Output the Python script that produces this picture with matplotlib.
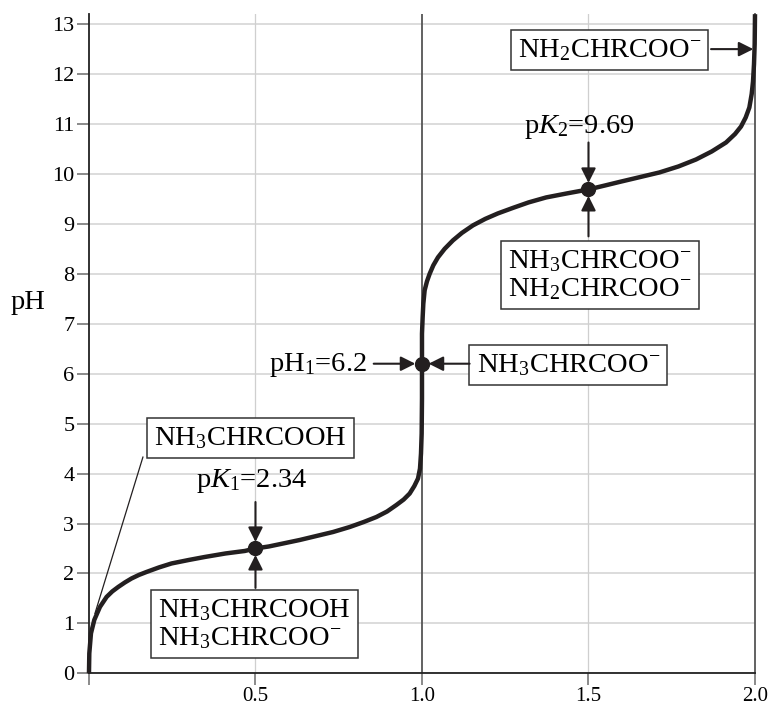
import matplotlib
matplotlib.use("Agg")
import matplotlib.pyplot as plt

plt.rcParams['font.family'] = ['Liberation Serif', 'DejaVu Serif']
plt.rcParams['mathtext.fontset'] = 'custom'
plt.rcParams['mathtext.rm'] = 'Liberation Serif'
plt.rcParams['mathtext.it'] = 'Liberation Serif:italic'

# titration curve (equivalents of base, pH)
eq = [0, 0.001, 0.006, 0.016, 0.033, 0.053, 0.07, 0.088, 0.108, 0.128,
      0.15, 0.173, 0.21, 0.248, 0.3, 0.348, 0.41, 0.468, 0.5, 0.54,
      0.583, 0.633, 0.683, 0.733, 0.783, 0.825, 0.863, 0.895, 0.923, 0.945,
      0.963, 0.977, 0.988, 0.994, 0.997, 0.999, 1.0, 1.0, 1.002, 1.004,
      1.008, 1.015, 1.023, 1.034, 1.048, 1.068, 1.093, 1.12, 1.153, 1.19,
      1.228, 1.273, 1.32, 1.373, 1.435, 1.5, 1.55, 1.593, 1.65, 1.713,
      1.77, 1.823, 1.87, 1.913, 1.94, 1.958, 1.972, 1.983, 1.99, 1.994,
      1.997, 1.999, 2.0]
ph = [0, 0.4, 0.8, 1.07, 1.33, 1.53, 1.64, 1.73, 1.82, 1.9,
      1.97, 2.03, 2.12, 2.2, 2.27, 2.33, 2.4, 2.45, 2.5, 2.54,
      2.6, 2.67, 2.75, 2.83, 2.93, 3.03, 3.13, 3.24, 3.37, 3.48,
      3.6, 3.75, 3.9, 4.1, 4.4, 4.8, 5.5, 6.8, 7.13, 7.4,
      7.67, 7.85, 8.0, 8.17, 8.33, 8.5, 8.67, 8.82, 8.97, 9.1,
      9.21, 9.32, 9.43, 9.53, 9.61, 9.69, 9.77, 9.84, 9.93, 10.03,
      10.15, 10.29, 10.45, 10.63, 10.8, 10.95, 11.13, 11.33, 11.6, 11.85,
      12.2, 12.6, 13.2]

# marked points: pK1, pI, pK2
mark_x = [0.5, 1.0, 1.5]
mark_y = [2.5, 6.2, 9.69]

xticks = [0, 0.5, 1.0, 1.5, 2.0]
xticklabels = ['', '0.5', '1.0', '1.5', '2.0']
yticks = list(range(0, 14))

ink = '#231f20'
fs = 20.5
serif = 'Liberation Serif'

fig = plt.figure(figsize=(7.69, 7.08), dpi=100)
ax = fig.add_axes([0.1157, 0.049, 0.8661, 0.931])

ax.set_xlim(0, 2.0)
ax.set_ylim(0, 13.2)

# grid
for y in yticks:
    ax.axhline(y, color='#dcdcdc', lw=1.4, zorder=0)
for x in [0.5, 1.5]:
    ax.axvline(x, color='#cfcfcf', lw=0.9, zorder=0)
ax.axvline(1.0, color='#555555', lw=1.3, zorder=1)

ax.spines['top'].set_visible(False)
ax.spines['right'].set_color('#555555')
ax.spines['right'].set_linewidth(1.3)
ax.spines['left'].set_color('#222222')
ax.spines['bottom'].set_color('#222222')
ax.spines['left'].set_linewidth(1.3)
ax.spines['bottom'].set_linewidth(1.3)

ax.set_xticks(xticks)
ax.set_xticklabels(xticklabels, fontfamily=serif, fontsize=15)
ax.set_yticks(yticks)
ax.set_yticklabels([str(v) for v in yticks], fontfamily=serif, fontsize=16)
ax.tick_params(axis='both', length=8.5, width=1.2, color='#777777', direction='out')
ax.tick_params(axis='y', pad=2)
ax.tick_params(axis='x', pad=1)

fig.text(0.036, 0.573, 'pH', fontsize=fs, ha='center', va='center')

ax.plot(eq, ph, color=ink, lw=3.2, solid_joinstyle='round', solid_capstyle='butt', zorder=3, clip_on=False)
ax.plot(mark_x, mark_y, 'o', color=ink, ms=10, zorder=4)

box = dict(boxstyle='square,pad=0.25', fc='white', ec='#333333', lw=1.1)
arrow = dict(arrowstyle='-|>', color=ink, lw=1.5, mutation_scale=22, shrinkA=0, shrinkB=0)

# first equivalence region
ax.plot([0.162, 0.018], [4.33, 1.2], color=ink, lw=0.9, zorder=2)
ax.text(0.485, 4.71, r'NH$_3$CHRCOOH', fontsize=fs, ha='center', va='center', bbox=box, zorder=5)
ax.text(0.49, 3.85, r'p$K_1$=2.34', fontsize=fs, ha='center', va='center', zorder=5)
ax.annotate('', xy=(0.5, 2.63), xytext=(0.5, 3.43), arrowprops=arrow, zorder=5)
ax.text(0.496, 0.99, 'NH$_3$CHRCOOH\nNH$_3$CHRCOO$^{-}$', fontsize=fs, ha='center', va='center',
        multialignment='left', linespacing=1.1, bbox=box, zorder=5)
ax.annotate('', xy=(0.5, 2.37), xytext=(0.5, 1.71), arrowprops=arrow, zorder=5)

# isoelectric point
ax.text(0.834, 6.17, r'pH$_1$=6.2', fontsize=fs, ha='right', va='center', zorder=5)
ax.annotate('', xy=(0.98, 6.2), xytext=(0.855, 6.2), arrowprops=arrow, zorder=5)
ax.text(1.164, 6.17, r'NH$_3$CHRCOO$^{-}$', fontsize=fs, ha='left', va='center', bbox=box, zorder=5)
ax.annotate('', xy=(1.02, 6.2), xytext=(1.143, 6.2), arrowprops=arrow, zorder=5)

# second pK
ax.text(1.473, 10.95, r'p$K_2$=9.69', fontsize=fs, ha='center', va='center', zorder=5)
ax.annotate('', xy=(1.5, 9.82), xytext=(1.5, 10.63), arrowprops=arrow, zorder=5)
ax.text(1.534, 7.97, 'NH$_3$CHRCOO$^{-}$\nNH$_2$CHRCOO$^{-}$', fontsize=fs, ha='center', va='center',
        multialignment='left', linespacing=1.1, bbox=box, zorder=5)
ax.annotate('', xy=(1.5, 9.56), xytext=(1.5, 8.75), arrowprops=arrow, zorder=5)

# fully deprotonated
ax.text(1.563, 12.48, r'NH$_2$CHRCOO$^{-}$', fontsize=fs, ha='center', va='center', bbox=box, zorder=5)
ax.annotate('', xy=(1.995, 12.5), xytext=(1.868, 12.5), arrowprops=arrow, zorder=5)

fig.savefig('out.png', dpi=100)
